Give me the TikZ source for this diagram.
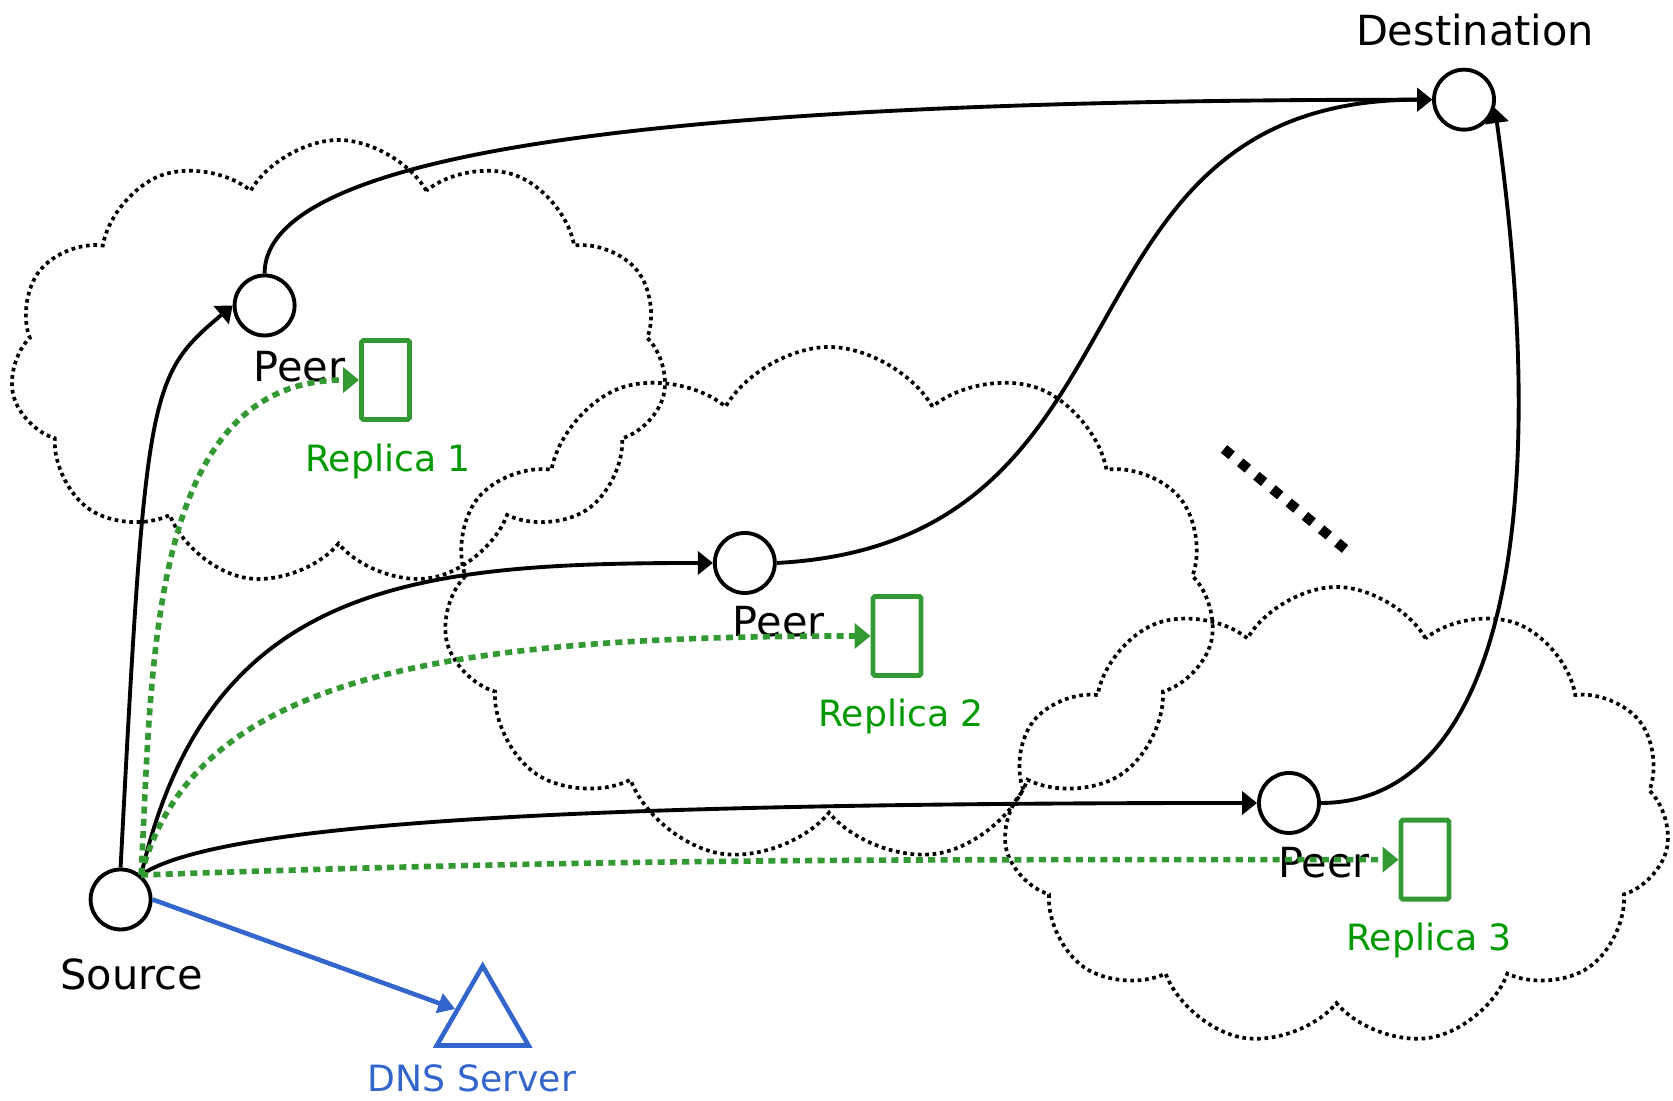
\documentclass[tikz,border=0pt]{standalone}
\usepackage{fontspec}
\setmainfont{DejaVu Sans}
\usepackage{tikz}
\usepackage{xcolor}
\usetikzlibrary{calc,arrows.meta,shapes.symbols,shapes.geometric}

\definecolor{repgreen}{RGB}{51,153,51}
\definecolor{reptext}{RGB}{0,153,0}
\definecolor{dnsblue}{RGB}{51,102,204}

\begin{document}
\begin{tikzpicture}
        \tikzstyle{peer}=[draw,circle,line width=1.1pt,minimum size=6mm,inner sep=0pt]
        \tikzstyle{replica}=[draw=repgreen,line width=1.4pt,rounded corners=0.5pt,minimum width=4.8mm,minimum height=7.9mm,inner sep=0pt]
        \tikzstyle{net}=[draw,cloud,cloud puffs=11,cloud puff arc=120,cloud ignores aspect,line width=1.05pt,dash pattern=on 1.05pt off 1.05pt,inner sep=0pt]
        \tikzstyle{lbl}=[anchor=base,inner sep=0pt,font=\fontsize{11.8}{14}\selectfont]
        \tikzstyle{glbl}=[anchor=base,inner sep=0pt,text=reptext,font=\fontsize{10.3}{12}\selectfont]
        \tikzstyle{route}=[line width=1.1pt,-{Triangle[length=1.5mm,width=2.3mm]}]
        \tikzstyle{repl}=[repgreen,line width=1.6pt,dash pattern=on 2pt off 1.5pt,-{Triangle[length=1.6mm,width=2.5mm]}]

            \useasboundingbox (0,0) rectangle (16.73,11.01);

            % the three networks
            \node[net,minimum width=6.57cm,minimum height=4.47cm] (N1) at (3.385,7.375) {};
            \node[net,minimum width=7.72cm,minimum height=5.17cm] (N2) at (8.29,4.955) {};
            \node[net,minimum width=6.67cm,minimum height=4.6cm] (N3) at (13.365,2.84) {};

            \node[peer] (Src) at (1.206,2.015) {};
            \node[peer] (P1) at (2.646,7.955) {};
            \node[peer] (P2) at (7.448,5.38) {};
            \node[peer] (P3) at (12.89,2.98) {};
            \node[peer] (Dst) at (14.64,10.013) {};

            \node[replica] (R1) at (3.855,7.21) {};
            \node[replica] (R2) at (8.97,4.65) {};
            \node[replica] (R3) at (14.25,2.413) {};

            \node[draw=dnsblue,line width=1.3pt,regular polygon,regular polygon sides=3,minimum size=10.6mm,inner sep=0pt] (DNS) at (4.827,0.82) {};

            \node[lbl] (SrcL) at ($(Src)+(0.11,-0.898)$) {Source};
            \node[lbl] (DstL) at ($(Dst)+(0.11,0.537)$) {Destination};
            \node[lbl] (P1L) at ($(P1)+(0.35,-0.762)$) {Peer};
            \node[lbl] (P2L) at ($(P2)+(0.34,-0.737)$) {Peer};
            \node[lbl] (P3L) at ($(P3)+(0.35,-0.743)$) {Peer};
            \node[glbl] (R1L) at ($(R1)+(0.025,-0.917)$) {Replica 1};
            \node[glbl] (R2L) at ($(R2)+(0.04,-0.907)$) {Replica 2};
            \node[glbl] (R3L) at ($(R3)+(0.04,-0.91)$) {Replica 3};
            \node[glbl,text=dnsblue] (DNSL) at (4.72,0.093) {DNS Server};

            % routes through the peers
            \draw[route] (Src.north) .. controls +(87:4.8) and +(-140:1.1) .. (P1.west);
            \draw[route] (P1.north) .. controls +(0,1.35) and +(-6.8,0) .. (Dst.west);
            \draw[route] (Src.50) .. controls +(77:3) and +(180:3) .. (P2.west);
            \draw[route] (P2.east) to[out=3,in=180,looseness=1.25] (Dst.west);
            \draw[route] (Src.50) .. controls +(35:1) and +(180:6) .. (P3.west);
            \draw[route] (P3.east) .. controls +(0:1.6) and +(-82:4.7) .. (Dst.-15);

            % replicas
            \draw[repl] (Src.50) to[out=87,in=180] (R1.west);
            \draw[repl] (Src.50) .. controls +(75:2) and +(180:4.5) .. (R2.west);
            \draw[repl] (Src.50) to[out=2,in=180] (R3.west);

            \draw[dnsblue,line width=1.3pt,-{Triangle[length=1.7mm,width=2mm]}] (Src.east) -- (DNS);

            \coordinate (E1) at (12.24,6.52);
            \coordinate (E2) at (13.45,5.52);
            \draw[line width=1mm,dash pattern=on 1mm off 1.1mm] (E1) -- (E2);

        \end{tikzpicture}
\end{document}
